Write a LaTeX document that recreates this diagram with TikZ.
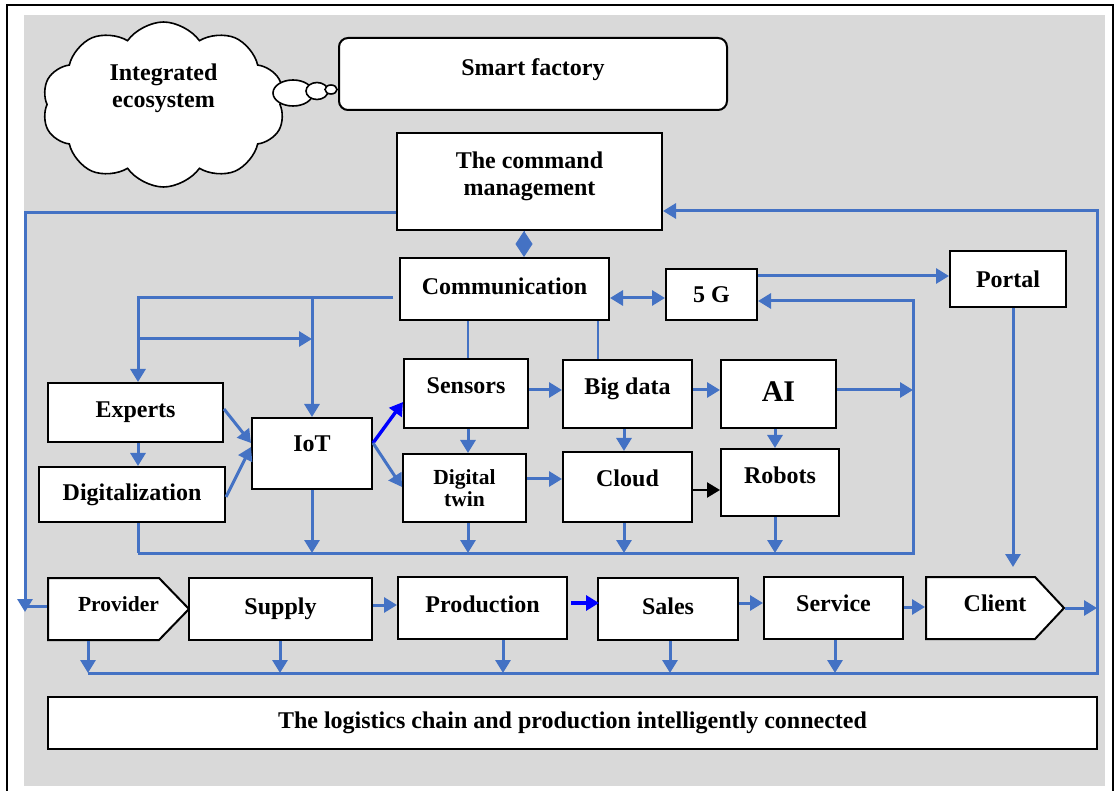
\documentclass[tikz,border=0pt]{standalone}
\usepackage{fontspec}
\setmainfont{Liberation Serif}
\usetikzlibrary{arrows.meta, positioning, shapes.symbols}

\definecolor{linkblue}{HTML}{4472C4}
\definecolor{panelgray}{HTML}{D9D9D9}

\begin{document}
\begin{tikzpicture}[x=1pt, y=-1pt,
            every node/.style={draw, fill=white, line width=2pt, inner sep=0pt, align=center,
                font=\bfseries\fontsize{24}{27}\selectfont},
            smalltext/.style={font=\bfseries\fontsize{21.5}{22}\selectfont},
            bare/.style={draw=none, fill=none},
            flow/.style={draw=linkblue, line width=3pt, -{Triangle[length=13pt, width=15pt]}},
            wire/.style={draw=linkblue, line width=3pt},
            hairline/.style={draw=linkblue, line width=1.3pt},
            brightflow/.style={draw=blue, line width=3.4pt, -{Triangle[length=13pt, width=15pt]}},
            blackflow/.style={draw=black, line width=2.4pt, -{Triangle[length=13pt, width=15pt]}},
        ]
        \useasboundingbox (0,0) rectangle (1117,791);
        \fill[white] (0,0) rectangle (1117,791);
        \draw[line width=1.3pt] (7,791) -- (7,5) -- (1113,5) -- (1113,791);
        \fill[panelgray] (24,15) rectangle (1105,786);

        % thought cloud
        \node[cloud, cloud puffs=10, cloud puff arc=110, aspect=1.47, line width=1.6pt,
              minimum width=243, minimum height=165, text depth=38pt] (eco) at (163.5,104.5) {Integrated\\ecosystem};
        \draw[fill=white, line width=1.6pt] (293,93) ellipse (20 and 13);
        \draw[fill=white, line width=1.6pt] (317,91) ellipse (11 and 8.5);
        \draw[fill=white, line width=1.6pt] (331,89.5) ellipse (6 and 4.5);

        \node[rounded corners=9pt, minimum width=388, minimum height=72, text depth=14pt] (smart) at (533,74) {Smart factory};
        \node[minimum width=265, minimum height=97, text depth=16pt] (cmd) at (529.5,181.5) {The command\\management};

        \node[minimum width=209, minimum height=62, text depth=6pt] (comm) at (504.5,289) {Communication};
        \node[minimum width=91, minimum height=51] (fiveg) at (711.5,294.5) {5 G};
        \node[minimum width=116, minimum height=56] (portal) at (1008,279) {Portal};

        \node[minimum width=175, minimum height=59] (experts) at (135.5,412.5) {Experts};
        \node[minimum width=186, minimum height=55] (digit) at (132,494.5) {Digitalization};
        \node[minimum width=120, minimum height=71, text depth=19pt] (iot) at (312,453.5) {IoT};

        \node[minimum width=124, minimum height=69, text depth=15pt] (sensors) at (466,393.5) {Sensors};
        \node[minimum width=129, minimum height=68, text depth=16pt] (bigdata) at (627.5,394) {Big data};
        \node[minimum width=115, minimum height=68, text depth=4pt, font=\bfseries\fontsize{30}{34}\selectfont] (ai) at (778.5,394) {AI};
        \node[minimum width=123, minimum height=68, smalltext] (twin) at (464.5,488) {Digital\\twin};
        \node[minimum width=129, minimum height=70, text depth=18pt] (cloudsrv) at (627.5,487) {Cloud};
        \node[minimum width=118, minimum height=67, text depth=15pt] (robots) at (780,482.5) {Robots};

        % pointed ends of the chain
        \draw[fill=white, line width=2pt] (48,578) -- (159,578) -- (189,609) -- (159,640) -- (48,640) -- cycle;
        \draw[fill=white, line width=2pt] (926,577) -- (1035,577) -- (1064,608) -- (1035,639) -- (926,639) -- cycle;
        \node[bare, minimum width=141, minimum height=62, text depth=10pt, smalltext] (prov) at (118.5,609) {Provider};
        \node[minimum width=183, minimum height=62] (supply) at (280.5,609) {Supply};
        \node[minimum width=169, minimum height=62, text depth=8pt] (prod) at (482.5,608) {Production};
        \node[minimum width=140, minimum height=62, text depth=5pt] (sales) at (668,609) {Sales};
        \node[minimum width=139, minimum height=62, text depth=9pt] (service) at (833.5,608) {Service};
        \node[bare, minimum width=138, minimum height=62, text depth=10pt] (client) at (995,608) {Client};

        \node[minimum width=1049, minimum height=52] (chain) at (572.5,723) {The logistics chain and production intelligently connected};

        % management and communication
        \draw[linkblue, line width=0.8pt, -{Diamond[length=26pt, width=17pt]}] ([xshift=-5.5pt]cmd.south) -- ([xshift=19.5pt]comm.north);
        \draw[flow, {Triangle[length=13pt, width=15pt]}-{Triangle[length=13pt, width=15pt]}] (comm.east |- 0,298) -- (fiveg.west |- 0,298);
        \draw[flow] (fiveg.east |- 0,276) -- (portal.west |- 0,276);
        \draw[flow] (138,553) -- (913,553) -- (913,301) -- (fiveg.east |- 0,301);
        \draw[wire] (138,0 |- digit.south) -- (138,553);
        \draw[flow] (ai.east |- 0,390) -- (913,390);
        \draw[flow] (1013,0 |- portal.south) -- ([yshift=9pt]1013,0 |- client.north);

        % outer loops
        \draw[flow] (cmd.west |- 0,213) -| (25,612);
        \draw[wire] (prov.west |- 0,606) -- (25,606);
        \draw[flow] (88,673) -- (1097,673) -- (1097,211) -- (cmd.east |- 0,211);
        \draw[flow] (client.east) -- (1097,0 |- client.east);

        % left tree
        \draw[flow] (393,298) -- (138,298) -- (138,0 |- experts.north);
        \draw[flow] (iot.north |- 0,298) -- (iot.north);
        \draw[flow] (138,339) -- (iot.north |- 0,339);
        \draw[flow] (138,0 |- experts.south) -- (138,0 |- digit.north);
        \draw[flow] (experts.east |- 0,409) -- (iot.west |- 0,443);
        \draw[flow] (digit.east |- 0,497) -- (iot.west |- 0,447);
        \draw[brightflow] (iot.east |- 0,443) -- (sensors.west |- 0,402);
        \draw[flow] (iot.east |- 0,443) -- (twin.west |- 0,487);
        \draw[flow] (iot.south) -- (iot.south |- 0,553);

        % data block
        \draw[hairline] (468,0 |- comm.south) -- (468,0 |- sensors.north);
        \draw[hairline] (598,0 |- comm.south) -- (598,0 |- bigdata.north);
        \draw[flow] (sensors.east |- 0,390) -- (bigdata.west |- 0,390);
        \draw[flow] (bigdata.east |- 0,390) -- (ai.west |- 0,390);
        \draw[flow] (468,0 |- sensors.south) -- (468,0 |- twin.north);
        \draw[flow] (624,0 |- bigdata.south) -- (624,0 |- cloudsrv.north);
        \draw[flow] (775,0 |- ai.south) -- (775,0 |- robots.north);
        \draw[flow] (twin.east |- 0,479) -- (cloudsrv.west |- 0,479);
        \draw[blackflow] (cloudsrv.east |- 0,490) -- (robots.west |- 0,490);
        \draw[flow] (468,0 |- twin.south) -- (468,553);
        \draw[flow] (624,0 |- cloudsrv.south) -- (624,553);
        \draw[flow] (775,0 |- robots.south) -- (775,553);

        % logistics chain
        \draw[flow] (supply.east |- 0,605) -- (prod.west |- 0,605);
        \draw[brightflow] ([xshift=3pt]prod.east |- 0,603) -- ([xshift=2pt]sales.west |- 0,603);
        \draw[flow] (sales.east |- 0,603) -- (service.west |- 0,603);
        \draw[flow] (service.east |- 0,607) -- (client.west |- 0,607);
        \draw[flow] (88,0 |- prov.south) -- (88,673);
        \draw[flow] (280,0 |- supply.south) -- (280,673);
        \draw[flow] (503,0 |- prod.south) -- (503,673);
        \draw[flow] (670,0 |- sales.south) -- (670,673);
        \draw[flow] (835,0 |- service.south) -- (835,673);
\end{tikzpicture}
\end{document}
